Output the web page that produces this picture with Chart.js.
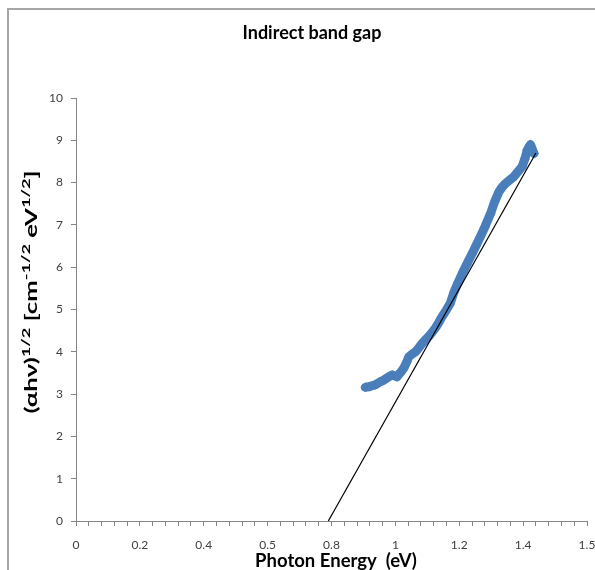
<!DOCTYPE html>
<html>
<head>
<meta charset="utf-8">
<script src="https://cdn.jsdelivr.net/npm/chart.js@4/dist/chart.umd.min.js"></script>
<style>
  html, body { margin: 0; padding: 0; background: #fff; }
  #wrap { width: 595px; height: 570px; position: relative; }
</style>
</head>
<body>
<div id="wrap"><canvas id="chart" width="595" height="570"></canvas></div>
<script>
const photonEnergy = [0.906, 0.92, 0.937, 0.95, 0.963, 0.977, 0.99, 1.005, 1.015, 1.026, 1.035, 1.042, 1.053, 1.063, 1.074, 1.084, 1.094, 1.104, 1.115, 1.125, 1.135, 1.146, 1.159, 1.172, 1.183, 1.197, 1.211, 1.225, 1.239, 1.252, 1.266, 1.28, 1.298, 1.311, 1.324, 1.335, 1.345, 1.358, 1.371, 1.384, 1.397, 1.405, 1.413, 1.423, 1.434];
const alphaHv = [3.16, 3.18, 3.22, 3.28, 3.33, 3.40, 3.45, 3.41, 3.50, 3.61, 3.75, 3.88, 3.95, 4.00, 4.10, 4.20, 4.28, 4.36, 4.46, 4.56, 4.68, 4.83, 4.98, 5.15, 5.40, 5.65, 5.88, 6.09, 6.30, 6.50, 6.72, 6.95, 7.27, 7.55, 7.78, 7.90, 7.98, 8.06, 8.14, 8.26, 8.38, 8.55, 8.77, 8.90, 8.69];

// linear fit line (extrapolated to y = 0)
const fitX = [0.79, 1.44];
const fitY = [0, 8.7];

const xTickLabels = ["0", "0.2", "0.4", "0.5", "0.8", "1", "1.2", "1.4", "1.5"];
const yTickLabels = ["0", "1", "2", "3", "4", "5", "6", "7", "8", "9", "10"];

const FONT = "Lato, 'Open Sans', sans-serif";
const blue = "#4a7ebb";

const dataPts = photonEnergy.map((x, i) => ({ x, y: alphaHv[i] }));
const fitPts = fitX.map((x, i) => ({ x, y: fitY[i] }));

const decorPlugin = {
  id: "decor",
  beforeDraw(chart) {
    const c = chart.ctx;
    c.save();
    c.fillStyle = "#fff";
    c.fillRect(0, 0, chart.width, chart.height);
    // outer frame
    c.strokeStyle = "#a6a6a6";
    c.lineWidth = 2;
    c.beginPath();
    c.moveTo(8, 570);
    c.lineTo(8, 9);
    c.lineTo(595, 9);
    c.stroke();
    c.restore();
  },
  afterDraw(chart) {
    const c = chart.ctx;
    c.save();
    c.fillStyle = "#000";
    // title
    c.font = "bold 18px " + FONT;
    c.textAlign = "center";
    c.textBaseline = "middle";
    c.fillText("Indirect band gap", 312, 33);
    // x axis title
    c.font = "bold 18.5px " + FONT;
    c.textBaseline = "alphabetic";
    c.fillText("Photon Energy  (eV)", 336, 567);
    // y axis title with superscripts, stretched to the reference length
    const parts = [
      ["(\u03B1h\u03BD)", false], ["1/2", true], [" [cm", false], ["-1/2", true],
      [" eV", false], ["1/2", true], ["]", false]
    ];
    const bigSize = 17, smallSize = 12;
    let total = 0;
    parts.forEach(p => {
      c.font = "bold " + (p[1] ? smallSize : bigSize) + "px " + FONT;
      total += c.measureText(p[0]).width;
    });
    const k = 243 / total;
    c.translate(37, 292);
    c.rotate(-Math.PI / 2);
    c.scale(k, 1);
    c.textAlign = "left";
    let pos = -total / 2;
    parts.forEach(p => {
      c.font = "bold " + (p[1] ? smallSize : bigSize) + "px " + FONT;
      c.fillText(p[0], pos, p[1] ? -7 : 0);
      pos += c.measureText(p[0]).width;
    });
    c.restore();
  }
};

new Chart(document.getElementById("chart"), {
  type: "scatter",
  data: {
    datasets: [
      {
        data: dataPts,
        showLine: true,
        borderColor: blue,
        borderWidth: 9,
        borderJoinStyle: "round",
        borderCapStyle: "round",
        backgroundColor: blue,
        pointStyle: "rectRot",
        pointRadius: 5,
        pointBorderWidth: 0,
        order: 2
      },
      {
        data: fitPts,
        showLine: true,
        borderColor: "#000",
        borderWidth: 1.2,
        pointRadius: 0,
        order: 1
      }
    ]
  },
  options: {
    responsive: false,
    animation: false,
    layout: { padding: { top: 98, right: 8, left: 0, bottom: 0 } },
    plugins: { legend: { display: false }, tooltip: { enabled: false } },
    scales: {
      x: {
        type: "linear",
        min: 0,
        max: 1.6,
        afterFit: s => { s.height = 49; s.paddingLeft = 0; s.paddingRight = 0; },
        afterBuildTicks: s => {
          s.ticks = [];
          for (let i = 0; i <= 40; i++) s.ticks.push({ value: i * 0.04 });
        },
        ticks: {
          autoSkip: false,
          maxRotation: 0,
          padding: 12,
          color: "#404040",
          font: { family: FONT, size: 12 },
          callback: (v, i) => (i % 5 === 0 ? xTickLabels[i / 5] : "")
        },
        grid: { drawOnChartArea: false, tickLength: 5, color: "#868686" },
        border: { color: "#868686", width: 1 }
      },
      y: {
        type: "linear",
        min: 0,
        max: 10,
        afterFit: s => { s.width = 76; s.paddingTop = 0; s.paddingBottom = 0; },
        ticks: {
          stepSize: 1,
          padding: 8,
          color: "#404040",
          font: { family: FONT, size: 12 },
          callback: (v, i) => yTickLabels[i]
        },
        grid: { drawOnChartArea: false, tickLength: 5, color: "#868686" },
        border: { color: "#868686", width: 1 }
      }
    }
  },
  plugins: [decorPlugin]
});
</script>
</body>
</html>
